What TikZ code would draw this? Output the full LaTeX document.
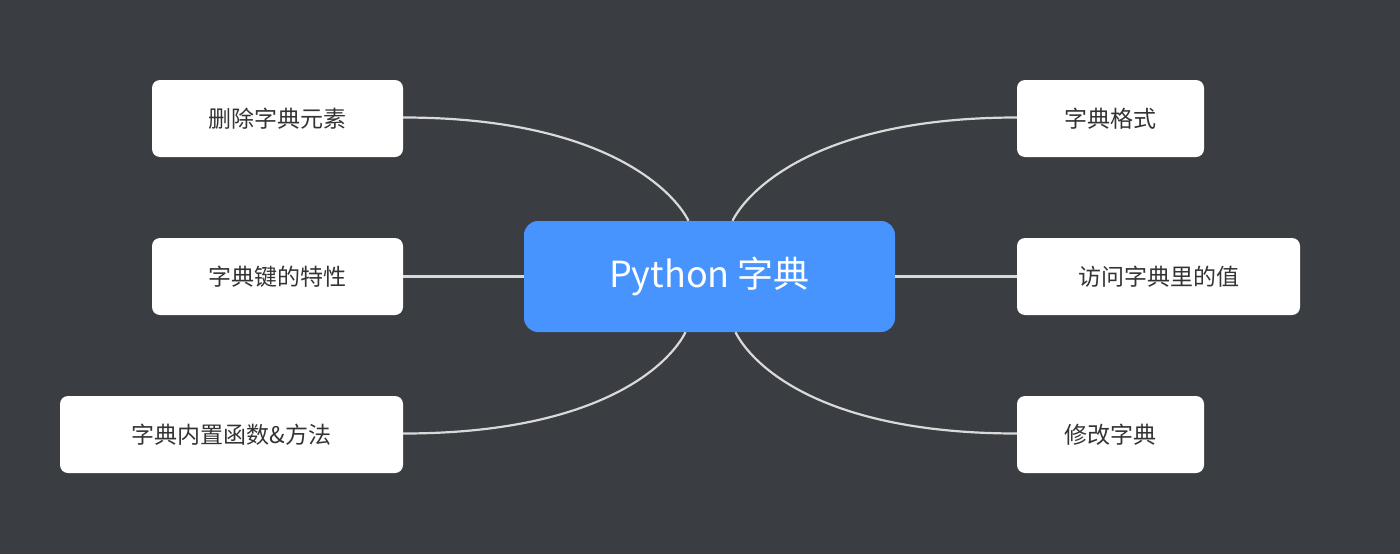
\documentclass[tikz,border=0pt]{standalone}
\usepackage{fontspec}
\setmainfont{Noto Sans CJK SC}
\usetikzlibrary{calc}
\definecolor{bg}{HTML}{3A3D42}
\definecolor{cblue}{HTML}{4794FF}
\definecolor{txt}{HTML}{333333}
\definecolor{lnk}{HTML}{D9D9D9}
\begin{document}
\begin{tikzpicture}[x=1pt,y=-1pt,
  leaf/.style={fill=white,rounded corners=8pt,text=txt,font=\fontsize{23}{26}\selectfont,minimum height=77pt,inner sep=0pt,anchor=center},
  link/.style={draw=lnk,line width=2.2pt}]
\fill[bg] (0,0) rectangle (1400,554);
\useasboundingbox (0,0) rectangle (1400,554);
\node[fill=cblue,rounded corners=14pt,text=white,font=\fontsize{36}{40}\selectfont,minimum width=371pt,minimum height=111pt,inner sep=0pt] (c) at (709.5,276.5) {Python 字典};
\node[leaf,minimum width=251pt] (l1) at (277.5,118.5) {删除字典元素};
\node[leaf,minimum width=251pt] (l2) at (277.5,276.5) {字典键的特性};
\node[leaf,minimum width=343pt] (l3) at (231.5,434.5) {字典内置函数\&方法};
\node[leaf,minimum width=187pt] (r1) at (1110.5,118.5) {字典格式};
\node[leaf,minimum width=283pt] (r2) at (1158.5,276.5) {访问字典里的值};
\node[leaf,minimum width=187pt] (r3) at (1110.5,434.5) {修改字典};
\draw[link] ($(l1.east)+(0,-1)$) .. controls +(200,0) and +(-15,-30) .. ($(c.north)+(-21,0)$);
\draw[link] ($(r1.west)+(0,-1)$) .. controls +(-200,0) and +(15,-30) .. ($(c.north)+(23,0)$);
\draw[link] ($(l3.east)+(0,-1)$) .. controls +(200,0) and +(-15,30) .. ($(c.south)+(-24,0)$);
\draw[link] ($(r3.west)+(0,-1)$) .. controls +(-200,0) and +(15,30) .. ($(c.south)+(26,0)$);
\draw[link] (l2.east) -- (c.west);
\draw[link] (c.east) -- (r2.west);
\end{tikzpicture}
\end{document}
